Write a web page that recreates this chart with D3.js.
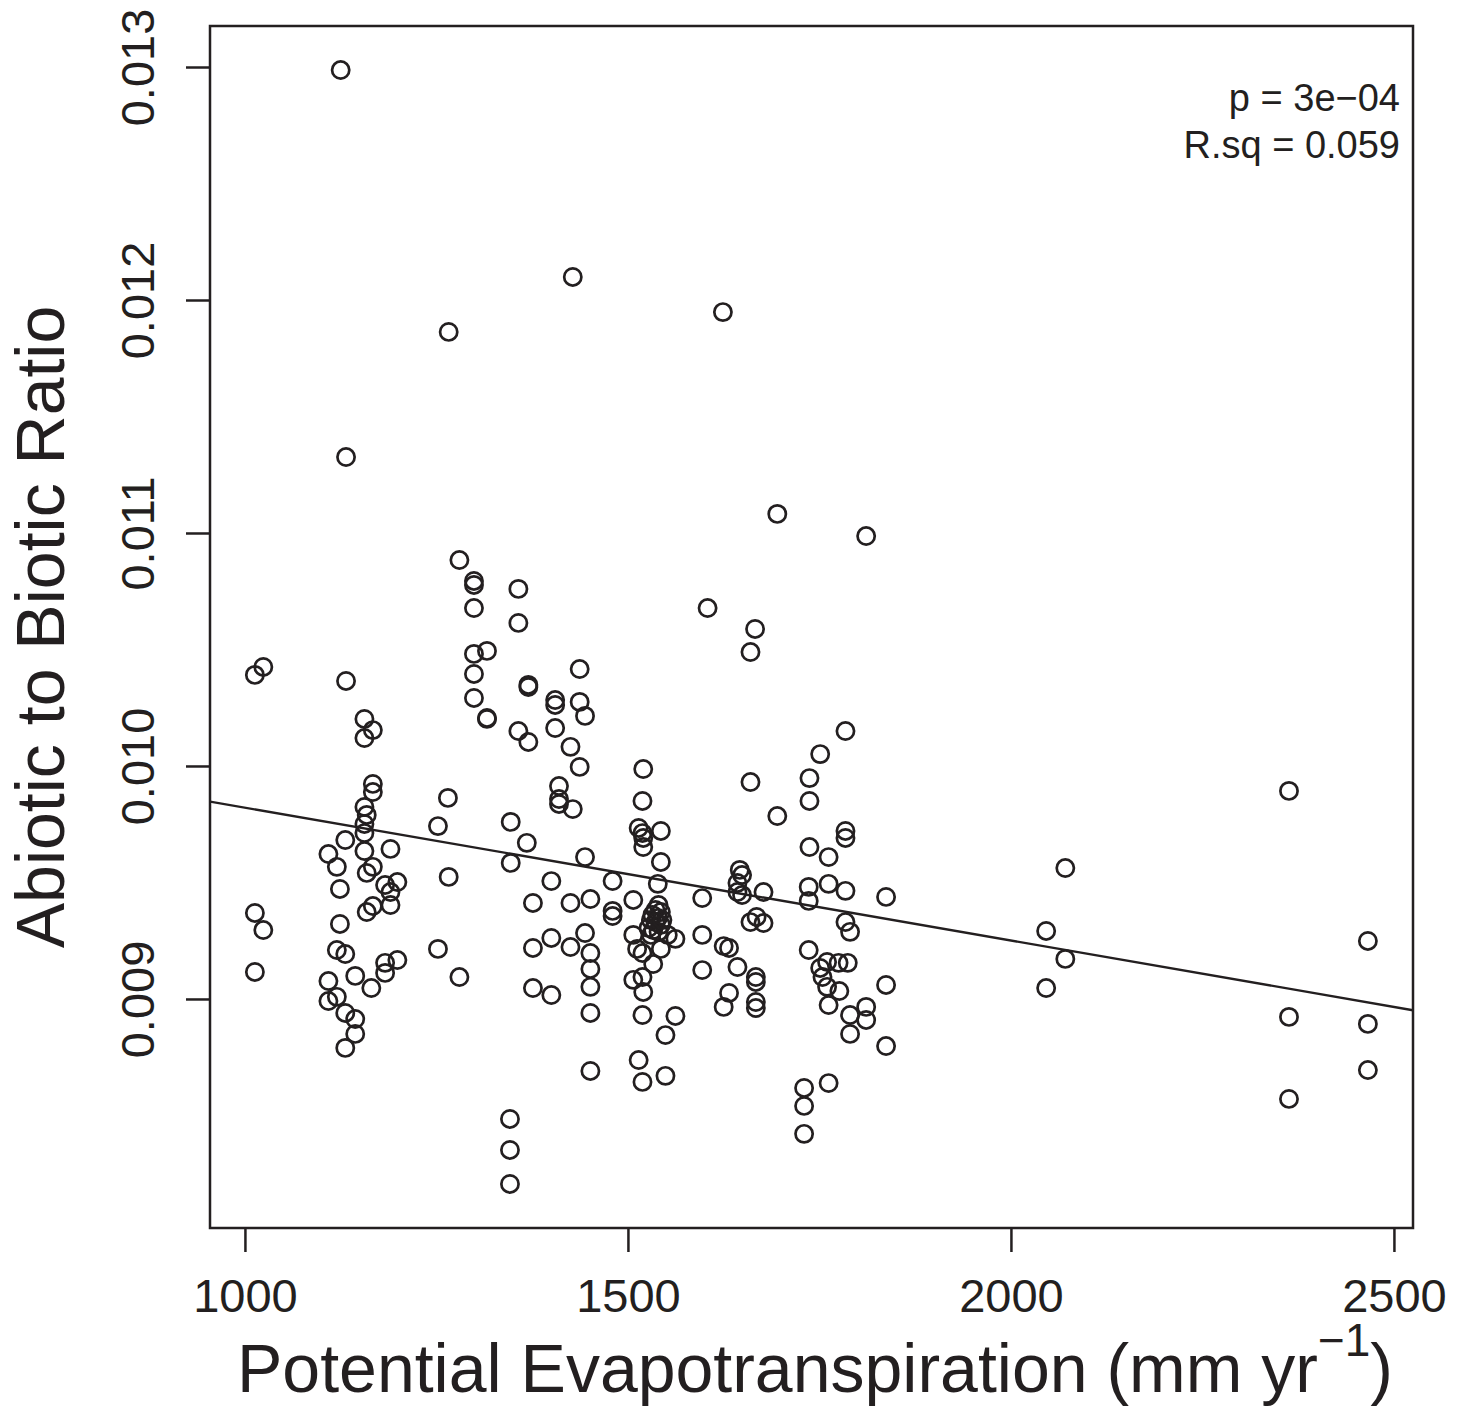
<!DOCTYPE html>
<html>
<head>
<meta charset="utf-8">
<script src="https://cdn.jsdelivr.net/npm/d3@7"></script>
<style>
	body { margin: 0; background: #fff; }
	text { font-family: 'Liberation Sans', Arial, sans-serif; fill: #231f20; }
</style>
</head>
<body>
<script>
// data
var pet = [1125,1428,1624,1266,1132,1695,1811,1280,1299,1299,1357,1299,1604,1357,1666,1660,1316,1299,1024,1437,
	1299,1013,1132,1370,1370,1299,1405,1437,1405,1444,1316,1316,1156,1405,1167,1784,1357,1156,1370,1425,
	1751,1437,1520,1737,1660,1167,1410,2363,1167,1265,1410,1519,1737,1410,1156,1428,1159,1695,1347,1156,
	1252,1514,1543,1784,1519,1156,1784,1520,1131,1368,1520,1737,1190,1156,1109,1444,1762,1543,1347,1120,
	1167,2071,1646,1159,1649,1266,1480,1400,1199,1643,1539,1762,1183,1736,1124,1784,1643,1677,1190,1649,
	1837,1597,1451,1507,1736,1376,1425,1190,1167,1480,1159,1013,1480,1668,1660,1784,1677,1124,1024,2046,
	1790,1444,1507,1597,1552,1400,1562,2466,1625,1632,1376,1425,1252,1543,1512,1120,1736,1451,1519,1131,
	2071,1199,1183,1760,1775,1787,1533,1643,1751,1451,1597,1013,1183,1144,1280,1519,1667,1754,1507,1109,
	1667,1837,1451,1760,2046,1376,1165,1776,1520,1632,1400,1120,1109,1667,1762,1625,1811,1667,1451,1131,
	1519,1790,1562,2363,1144,1811,2466,1144,1790,1549,1837,1131,1514,2466,1451,1549,1519,1762,1730,2363,
	1730,1346,1730,1346,1346,
	1540,1536,1543,1532,1539,1530,1536,1543,1527,1533,1540,1530,1545];

var ratio = [0.012987,0.012099,0.011948,0.011863,0.011326,0.011082,0.010987,0.010884,0.010794,0.010777,
	0.010760,0.010678,0.010678,0.010614,0.010588,0.010489,0.010494,0.010481,0.010425,0.010416,
	0.010395,0.010391,0.010365,0.010348,0.010339,0.010292,0.010283,0.010275,0.010262,0.010215,
	0.010206,0.010202,0.010202,0.010163,0.010154,0.010150,0.010150,0.010120,0.010103,0.010082,
	0.010051,0.009996,0.009987,0.009948,0.009931,0.009923,0.009914,0.009893,0.009888,0.009863,
	0.009858,0.009850,0.009850,0.009837,0.009824,0.009815,0.009790,0.009785,0.009760,0.009751,
	0.009742,0.009734,0.009721,0.009721,0.009712,0.009712,0.009691,0.009691,0.009682,0.009670,
	0.009652,0.009652,0.009644,0.009635,0.009622,0.009609,0.009609,0.009588,0.009584,0.009567,
	0.009567,0.009562,0.009554,0.009541,0.009532,0.009524,0.009506,0.009506,0.009502,0.009498,
	0.009494,0.009494,0.009489,0.009481,0.009472,0.009464,0.009459,0.009459,0.009459,0.009446,
	0.009438,0.009433,0.009429,0.009425,0.009421,0.009412,0.009412,0.009403,0.009399,0.009378,
	0.009373,0.009369,0.009356,0.009352,0.009330,0.009330,0.009326,0.009322,0.009296,0.009292,
	0.009288,0.009283,0.009275,0.009275,0.009275,0.009262,0.009258,0.009249,0.009227,0.009219,
	0.009219,0.009223,0.009215,0.009215,0.009215,0.009210,0.009210,0.009197,0.009197,0.009193,
	0.009172,0.009167,0.009155,0.009159,0.009155,0.009155,0.009150,0.009137,0.009133,0.009129,
	0.009124,0.009116,0.009112,0.009099,0.009094,0.009094,0.009094,0.009094,0.009082,0.009077,
	0.009073,0.009060,0.009052,0.009052,0.009047,0.009047,0.009047,0.009034,0.009030,0.009026,
	0.009017,0.009009,0.008991,0.008987,0.008974,0.008966,0.008966,0.008961,0.008940,0.008940,
	0.008931,0.008931,0.008927,0.008923,0.008914,0.008910,0.008893,0.008850,0.008850,0.008845,
	0.008798,0.008790,0.008738,0.008695,0.008691,0.008670,0.008644,0.008639,0.008618,0.008571,
	0.008541,0.008485,0.008421,0.008352,0.008206,
	0.009403,0.009382,0.009373,0.009361,0.009348,0.009339,0.009330,0.009318,0.009305,0.009296,
	0.009288,0.009275,0.009339];

// fitted line (intercept, slope) and the stats shown in the corner
var fit = [0.010391, -5.7e-7];
var stats = ['p = 3e\u221204', 'R.sq = 0.059'];
var xTicks = [1000, 1500, 2000, 2500];
var yTicks = [0.009, 0.010, 0.011, 0.012, 0.013];

var W = 1468, H = 1409;
var box = { left: 210, right: 1413, top: 26, bottom: 1228 };

var svg = d3.select('body').append('svg')
	.attr('width', W)
	.attr('height', H);

svg.append('rect').attr('width', W).attr('height', H).attr('fill', '#fff');

// R style: axis range padded 4% around the data
var xScale = d3.scaleLinear().domain([954.4, 2524.9]).range([box.left, box.right]),
	yScale = d3.scaleLinear().domain([0.008017, 0.013176]).range([box.bottom, box.top]);

var ink = '#231f20';

svg.append('defs').append('clipPath')
	.attr('id', 'clip')
	.append('rect')
	.attr('x', box.left)
	.attr('y', box.top)
	.attr('width', box.right - box.left)
	.attr('height', box.bottom - box.top);

// regression line
var lineGen = d3.line()
	.x(function(d) { return xScale(d); })
	.y(function(d) { return yScale(fit[0] + fit[1] * d); });

svg.append('path')
	.datum(xScale.domain())
	.attr('clip-path', 'url(#clip)')
	.attr('d', lineGen)
	.attr('fill', 'none')
	.attr('stroke', ink)
	.attr('stroke-width', 2.4);

// points
svg.append('g')
	.selectAll('circle')
	.data(d3.range(pet.length))
	.enter().append('circle')
	.attr('cx', function(i) { return xScale(pet[i]); })
	.attr('cy', function(i) { return yScale(ratio[i]); })
	.attr('r', 8.6)
	.attr('fill', 'none')
	.attr('stroke', ink)
	.attr('stroke-width', 2.7);

// axes
var xAxis = d3.axisBottom(xScale).tickValues(xTicks).tickSize(24).tickFormat(d3.format('d'));
var yAxis = d3.axisLeft(yScale).tickValues(yTicks).tickSize(24).tickFormat(d3.format('.3f'));

var gx = svg.append('g')
	.attr('transform', `translate(0, ${box.bottom})`)
	.call(xAxis);
gx.select('.domain').remove();
gx.selectAll('line').attr('stroke', ink).attr('stroke-width', 2.5);
gx.selectAll('text')
	.attr('y', 84)
	.attr('dy', 0)
	.style('font-size', '47px')
	.attr('fill', ink);

var gy = svg.append('g')
	.attr('transform', `translate(${box.left}, 0)`)
	.call(yAxis);
gy.select('.domain').remove();
gy.selectAll('line').attr('stroke', ink).attr('stroke-width', 2.5);
gy.selectAll('text')
	.attr('x', 0)
	.attr('dy', 0)
	.attr('transform', 'translate(-56, 0) rotate(-90)')
	.attr('text-anchor', 'middle')
	.style('font-size', '47px')
	.attr('fill', ink);

// frame
svg.append('rect')
	.attr('x', box.left)
	.attr('y', box.top)
	.attr('width', box.right - box.left)
	.attr('height', box.bottom - box.top)
	.attr('fill', 'none')
	.attr('stroke', ink)
	.attr('stroke-width', 2.5);

// axis titles
var xt = svg.append('text')
	.attr('x', 237)
	.attr('y', 1392)
	.style('font-size', '68px');
xt.append('tspan').text('Potential Evapotranspiration (mm yr');
xt.append('tspan').attr('dy', -36).style('font-size', '46px').text('\u22121');
xt.append('tspan').attr('dy', 36).text(')');

svg.append('text')
	.attr('transform', 'translate(64, 627) rotate(-90)')
	.attr('text-anchor', 'middle')
	.style('font-size', '68px')
	.text('Abiotic to Biotic Ratio');

// stats in top right corner
svg.append('g')
	.selectAll('text')
	.data(stats)
	.enter().append('text')
	.attr('x', 1400)
	.attr('y', function(d, i) { return 111 + i * 47; })
	.attr('text-anchor', 'end')
	.style('font-size', '38px')
	.text(function(d) { return d; });
</script>
</body>
</html>
